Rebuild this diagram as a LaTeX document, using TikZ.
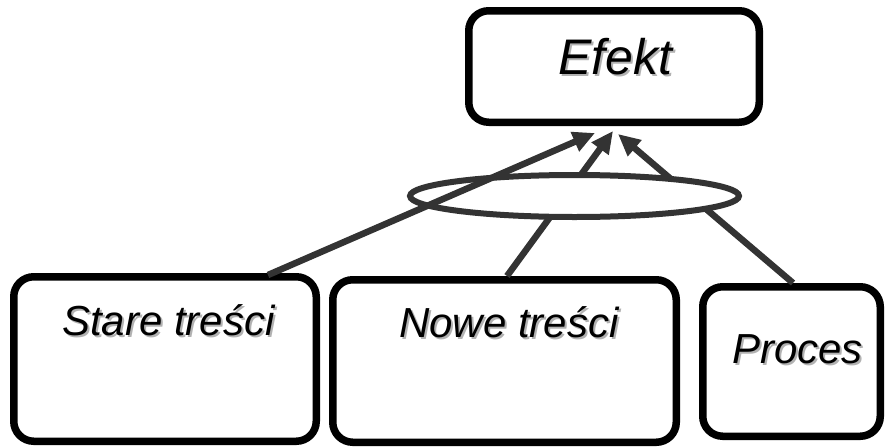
\documentclass[tikz,border=0pt]{standalone}
\usepackage{fontspec}
\setmainfont{Liberation Sans}
\usetikzlibrary{arrows.meta,shapes.geometric}
\definecolor{arrgray}{HTML}{333333}
\newcommand\shtext[1]{\makebox[0pt][l]{\hspace{2pt}\raisebox{-2pt}{\textcolor{black!30}{#1}}}#1}
\tikzset{
  box/.style={draw=black, fill=white, line width=7.5pt, rounded corners=20pt, inner sep=0pt},
  lbl/.style={anchor=base, inner sep=0pt, font=\itshape\fontsize{42}{50}\selectfont},
  arr/.style={draw=arrgray, line width=6.5pt, -{Triangle[length=22pt,width=20pt]}},
  grpst/.style={draw=arrgray, fill=white, line width=6pt, ellipse, inner sep=0pt}
}
\begin{document}
\begin{tikzpicture}[x=1pt,y=-1pt]
\useasboundingbox (0,0) rectangle (885,447);
% boxes
\node[box, minimum width=290.5pt, minimum height=111.5pt] (efekt) at (614,66.5) {};
\node[box, minimum width=302.5pt, minimum height=164.5pt] (stare) at (165,359) {};
\node[box, minimum width=343.5pt, minimum height=162.5pt] (nowe) at (504.5,361) {};
\node[box, minimum width=177.5pt, minimum height=149.5pt] (proces) at (791.5,361.5) {};
% labels
\node[lbl, font=\itshape\fontsize{50}{60}\selectfont] (tefekt) at (615,74) {\shtext{Efekt}};
\node[lbl] (tstare) at (168.5,335) {\shtext{Stare treści}};
\node[lbl] (tnowe) at (509,337) {\shtext{Nowe treści}};
\node[lbl] (tproces) at (797.5,363) {\shtext{Proces}};
% arrows behind the ellipse
\draw[arr] ([xshift=2.5pt]nowe.north) -- ([xshift=-1pt,yshift=-5pt]efekt.south);
\draw[arr] ([xshift=1.5pt]proces.north) -- ([xshift=4pt,yshift=-8pt]efekt.south);
% grouping ellipse
\node[grpst, minimum width=329pt, minimum height=42pt] (grp) at (574.5,196) {};
% arrow over the ellipse
\draw[arr] ([xshift=103pt,yshift=-2pt]stare.north) -- ([xshift=-19pt,yshift=-7pt]efekt.south);
\end{tikzpicture}
\end{document}
